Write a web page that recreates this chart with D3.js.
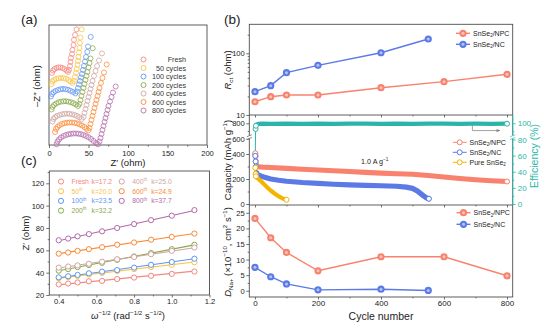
<!DOCTYPE html>
<meta charset="utf-8">
<script src="https://d3js.org/d3.v7.min.js"></script>
<style>
  body { margin: 0; background: #fff; }
</style>
<div id="chart"></div>
<script>

// ---------- (a) Nyquist plots, [Z', -Z''] in ohm ----------
var nyqNames = ["Fresh", "50 cycles", "100 cycles", "200 cycles", "400 cycles", "600 cycles", "800 cycles"];
var nyqFresh = [[3.8,91.3],[5.1,94.4],[7.0,96.3],[9.5,97.6],[12.0,98.2],[14.6,98.2],[17.1,97.6],[19.6,96.3],[22.2,94.4],[24.1,92.5],
  [25.3,95.1],[26.6,100.1],[27.2,105.2],[27.8,110.3],[29.1,115.3],[29.7,120.4],[31.0,126.7],[31.6,133.1],[32.9,139.4],[34.8,146.4]];
var nyq50 = [[3.2,77.3],[4.4,80.5],[6.3,82.4],[8.9,83.7],[12.0,84.5],[15.2,84.9],[18.4,84.7],[21.5,83.9],[24.7,82.4],[27.2,80.5],[29.7,78.6],
  [31.6,81.1],[32.9,86.2],[34.2,91.3],[35.1,96.3],[36.1,101.4],[36.7,106.5],[37.3,111.5],[38.0,117.2],[38.6,122.9],[39.2,129.3],[39.9,136.2],[41.4,146.4]];
var nyq100 = [[2.5,61.5],[3.8,64.6],[5.7,66.8],[8.2,68.4],[11.4,69.7],[14.6,70.6],[17.7,71.0],[20.9,70.7],[24.1,70.0],[27.2,68.7],[30.4,67.2],[33.5,65.3],
  [35.4,67.8],[36.7,72.2],[38.0,76.7],[39.2,81.1],[40.5,85.6],[41.8,90.0],[43.0,95.1],[44.3,100.1],[45.6,105.8],[46.8,111.5],[48.5,117.9],[49.4,124.8],[52.8,136.9]];
var nyq200 = [[3.2,45.0],[4.4,48.2],[6.3,50.7],[8.9,52.6],[12.0,54.1],[15.2,54.9],[18.4,55.4],[21.5,55.4],[24.7,54.9],[27.8,54.1],[31.0,52.9],[34.2,51.3],[36.7,49.4],
  [38.6,52.0],[39.9,57.0],[41.1,62.1],[42.4,67.2],[43.7,72.2],[44.9,77.3],[46.2,82.4],[47.5,87.5],[48.7,92.5],[50.0,98.2],[51.3,103.9],[52.5,109.6],[55.3,122.6]];
var nyq400 = [[4.4,29.8],[5.7,33.0],[7.6,35.1],[10.1,36.8],[13.3,38.0],[16.5,38.9],[19.6,39.5],[22.8,39.8],[25.9,39.5],[29.1,38.9],[32.3,38.0],[35.4,36.8],[38.6,35.1],[41.4,33.0],
  [43.7,35.5],[44.9,40.6],[46.2,45.6],[47.5,50.7],[48.7,55.8],[50.0,60.8],[51.3,65.9],[52.5,71.0],[53.8,76.0],[55.1,81.1],[57.0,87.5],[58.9,93.8],[60.8,100.1],[63.3,107.1],[67.1,116.0]];
var nyq600 = [[7.6,16.5],[8.9,20.3],[10.8,22.8],[13.3,25.0],[16.5,26.6],[19.6,27.6],[22.8,28.3],[25.9,28.5],[29.1,28.5],[32.3,28.1],[35.4,27.4],[38.6,26.2],[41.8,24.7],[44.9,22.8],[47.5,20.5],[49.7,18.4],
  [51.3,21.5],[52.5,26.6],[53.8,31.7],[55.1,36.8],[56.3,41.8],[57.6,46.9],[58.9,52.0],[60.1,57.0],[61.4,62.1],[62.7,67.2],[63.9,72.2],[65.8,78.6],[67.7,84.9],[69.6,91.9],[73.0,102.0]];
var nyq800 = [[9.5,0.9],[10.8,4.4],[12.7,7.2],[15.2,9.5],[18.4,11.4],[21.5,12.7],[24.7,13.6],[27.8,14.2],[31.0,14.6],[34.2,14.6],[37.3,14.3],[40.5,13.7],[43.7,12.7],[46.8,11.4],[50.0,9.8],[53.2,7.6],[56.3,5.1],[59.5,2.5],[62.0,0.9],
  [63.9,4.4],[65.2,8.9],[66.5,13.9],[67.7,19.0],[69.0,24.1],[70.3,29.2],[71.5,34.2],[72.8,39.3],[74.1,44.4],[75.3,49.4],[77.2,55.1],[79.1,60.8],[81.0,66.5],[84.4,74.1]];
var nyqTicks = [0, 50, 100, 150, 200];

// ---------- (c) Z' versus omega^-1/2 ----------
var wInv = [0.40, 0.45, 0.50, 0.56, 0.63, 0.71, 0.80, 0.89, 1.00, 1.12];
var zNames = ["Fresh", "50", "100", "200", "400", "600", "800"];
var zK = [17.2, 20.0, 23.5, 32.2, 25.0, 24.9, 37.7];
var zFresh = [29.5, 30.3, 31.2, 32.3, 32.6, 34.3, 35.6, 37.2, 38.9, 41.0];
var z50 = [35.0, 36.0, 37.0, 38.3, 39.8, 41.5, 43.2, 45.0, 47.0, 49.3];
var z100 = [35.8, 36.8, 38.0, 39.4, 40.9, 42.3, 44.5, 47.0, 49.5, 52.5];
var z200 = [41.8, 43.2, 45.0, 46.8, 48.8, 51.5, 54.5, 57.5, 61.0, 65.0];
var z400 = [44.5, 45.5, 46.5, 48.0, 49.8, 52.0, 54.0, 56.5, 59.5, 62.5];
var z600 = [57.0, 58.0, 59.5, 61.0, 62.8, 65.0, 67.0, 69.5, 72.0, 75.0];
var z800 = [69.0, 70.5, 72.5, 74.5, 77.0, 80.0, 83.5, 87.0, 91.0, 96.0];
var wTicks = [0.4, 0.6, 0.8, 1.0, 1.2];
var zTicks = [20, 40, 60, 80, 100, 120];

// ---------- (b) cycling ----------
var cyclesNPC = [0, 50, 100, 200, 400, 600, 800];
var cyclesNC = [0, 50, 100, 200, 400, 550];
var rctNPC = [16.4, 19.8, 21.1, 21.1, 27.7, 34.7, 45.7];
var rctNC = [23.9, 29.9, 48.5, 63.8, 102, 170.6];
var dNaNPC = [23.2, 17.0, 12.3, 6.4, 10.9, 10.9, 4.8];
var dNaNC = [7.5, 4.5, 2.2, 0.3, 0.5, 0.1];
// [cycle, capacity in mAh/g]
var capNPC = [[1,410],[2,380],[3,340],[5,310],[10,298],[25,295],[50,292],[100,285],[150,278],[200,272],[250,266],[300,260],[350,253],
  [400,247],[450,242],[500,238],[550,228],[600,216],[650,204],[700,194],[750,186],[800,180]];
var capNC = [[1,385],[2,340],[3,300],[5,250],[10,232],[25,218],[50,200],[75,190],[100,182],[150,172],[200,165],[250,158],[300,153],
  [350,149],[400,146],[450,142],[480,135],[500,125],[515,105],[525,85],[535,65],[545,48],[552,42]];
var capPure = [[1,290],[2,240],[3,222],[5,212],[10,203],[20,180],[30,155],[40,130],[50,108],[60,88],[70,70],[80,55],[90,42],[100,34]];
// [cycle, coulombic efficiency %]
var effNPC = [[1,62],[2,93],[3,97],[5,98.6],[10,99.2],[25,99.5],[50,99.3],[100,99.6],[150,99.4],[200,99.6],[250,99.3],[300,99.5],[350,99.6],
  [400,99.4],[450,99.6],[500,99.3],[550,99.5],[600,99.6],[650,99.4],[700,99.5],[750,99.3],[800,99.5]];
var cycleTicks = [0, 200, 400, 600, 800];
var capTicks = [0, 200, 400, 600, 800];
var effTicks = [0, 20, 40, 60, 80, 100];
var dTicks = [0, 5, 10, 15, 20, 25];

// ---------- colours ----------
var agingColors = ["#f4877f", "#f9c445", "#5f95ef", "#8aa84a", "#cfa6a2", "#fb8a36", "#b36ba9"];
var cNPC = "#f9826f", cNC = "#5b7ae6", cPure = "#f5b400", cEff = "#2bb5a8";

var FONT = '"Liberation Sans", Arial, Helvetica, sans-serif';
var AX = "#4d4d4d";

var svg = d3.select("#chart").append("svg")
  .attr("width", 554).attr("height", 328)
  .style("font-family", FONT);
svg.append("rect").attr("width", 554).attr("height", 328).attr("fill", "#fff");

function frame(x0, y0, x1, y1) {
  svg.append("rect").attr("x", x0).attr("y", y0).attr("width", x1 - x0).attr("height", y1 - y0)
    .attr("fill", "none").attr("stroke", AX).attr("stroke-width", 0.9);
}

function axis(gen, tx, ty, color, fs) {
  var g = svg.append("g").attr("transform", "translate(" + tx + "," + ty + ")").call(gen);
  g.select(".domain").remove();
  g.selectAll("line").attr("stroke", color || AX).attr("stroke-width", 0.8);
  g.selectAll("text").attr("fill", color || "#222").style("font-family", FONT).style("font-size", (fs || 7.6) + "px");
  return g;
}

// text with sub/superscript pieces: [string, "n"|"sup"|"sub", italic]
function richText(x, y, parts, fs, opts) {
  opts = opts || {};
  var t = svg.append("text").attr("x", x).attr("y", y)
    .attr("text-anchor", opts.anchor || "middle")
    .style("font-size", fs + "px")
    .attr("fill", opts.color || "#222");
  if (opts.rotate) t.attr("transform", "rotate(" + opts.rotate + "," + x + "," + y + ")");
  var shift = 0;
  parts.forEach(function(p) {
    var kind = p[1] || "n";
    var off = kind === "sup" ? -0.4 * fs : kind === "sub" ? 0.25 * fs : 0;
    var s = t.append("tspan").text(p[0]).attr("dy", off - shift);
    shift = off;
    if (kind !== "n") s.style("font-size", (fs * 0.65) + "px");
    if (p[2]) s.style("font-style", "italic");
  });
  return t;
}

// panel tags
richText(21, 24, [["(a)"]], 13.5, {anchor: "start"});
richText(224, 24, [["(b)"]], 13.5, {anchor: "start"});
richText(21, 165, [["(c)"]], 13.5, {anchor: "start"});

// =============== (a) ===============
var xA = d3.scaleLinear().domain([0, 200]).range([49, 207]);
var yA = d3.scaleLinear().domain([0, 152]).range([145, 25]);
frame(49, 25, 207, 145);
axis(d3.axisBottom(xA).tickValues(nyqTicks).tickSize(3).tickPadding(2.5).tickFormat(d3.format("d")), 0, 145);
axis(d3.axisBottom(xA).tickValues([25, 75, 125, 175]).tickSize(1.6).tickFormat(""), 0, 145);

var nyqSeries = [nyqFresh, nyq50, nyq100, nyq200, nyq400, nyq600, nyq800];
nyqSeries.forEach(function(s, i) {
  svg.append("g").selectAll("circle").data(s).enter().append("circle")
    .attr("cx", function(d) { return xA(d[0]); })
    .attr("cy", function(d) { return yA(d[1]); })
    .attr("r", 2.5)
    .attr("fill", "none")
    .attr("stroke", agingColors[i])
    .attr("stroke-width", 0.9)
    .attr("stroke-opacity", 0.85);
});

var legA = svg.append("g");
nyqNames.forEach(function(n, i) {
  var y = 59.5 + i * 8.5;
  legA.append("circle").attr("cx", 143.5).attr("cy", y).attr("r", 2.5)
    .attr("fill", "none").attr("stroke", agingColors[i]).attr("stroke-width", 0.9);
  legA.append("text").attr("x", 186).attr("y", y + 2.5).attr("text-anchor", "end")
    .style("font-size", "7.2px").attr("fill", "#333").text(n);
});

richText(40, 86, [["\u2013Z\u2033 (ohm)"]], 9.5, {rotate: -90});
richText(128, 166, [["Z\u2032 (ohm)"]], 9.5);

// =============== (c) ===============
var xC = d3.scaleLinear().domain([0.35, 1.2]).range([49.3, 209.5]);
var yC = d3.scaleLinear().domain([20, 131]).range([295, 171]);
frame(49.3, 171, 209.5, 295);
axis(d3.axisBottom(xC).tickValues(wTicks).tickSize(2.5).tickPadding(1.5).tickFormat(d3.format(".1f")), 0, 295);
axis(d3.axisBottom(xC).tickValues([0.5, 0.7, 0.9, 1.1]).tickSize(1.4).tickFormat(""), 0, 295);
axis(d3.axisLeft(yC).tickValues(zTicks).tickSize(3).tickPadding(2).tickFormat(d3.format("d")), 49.3, 0);
axis(d3.axisLeft(yC).tickValues([30, 50, 70, 90, 110, 130]).tickSize(1.6).tickFormat(""), 49.3, 0);

var zSeries = [zFresh, z50, z100, z200, z400, z600, z800];
zSeries.forEach(function(s, i) {
  // straight line with the fitted slope k through the centroid of the points
  var mx = d3.mean(wInv), my = d3.mean(s), k = zK[i];
  var x0 = wInv[0], x1 = wInv[wInv.length - 1];
  svg.append("line")
    .attr("x1", xC(x0)).attr("y1", yC(my + k * (x0 - mx)))
    .attr("x2", xC(x1)).attr("y2", yC(my + k * (x1 - mx)))
    .attr("stroke", agingColors[i]).attr("stroke-width", 1.1);
  svg.append("g").selectAll("circle").data(s).enter().append("circle")
    .attr("cx", function(d, j) { return xC(wInv[j]); })
    .attr("cy", function(d) { return yC(d); })
    .attr("r", 2.6)
    .attr("fill", "#fff")
    .attr("stroke", agingColors[i])
    .attr("stroke-width", 1);
});

var legC = svg.append("g");
zNames.forEach(function(n, i) {
  var col = i < 4 ? 0 : 1, row = i < 4 ? i : i - 4;
  var cx = col ? 121.7 : 61, y = 181.5 + row * 9.7;
  legC.append("circle").attr("cx", cx).attr("cy", y).attr("r", 2.6)
    .attr("fill", "none").attr("stroke", agingColors[i]).attr("stroke-width", 1);
  var parts = n === "Fresh" ? [["Fresh"]] : [[n], ["th", "sup"]];
  richText(cx + 10.5, y + 2.4, parts, 6.8, {anchor: "start", color: agingColors[i]});
  richText(cx + (col ? 29.5 : 30.5), y + 2.4, [["k=" + d3.format(".1f")(zK[i])]], 6.8, {anchor: "start", color: agingColors[i]});
});

richText(29, 233, [["Z\u2032 (ohm)"]], 9.5, {rotate: -90});
richText(128, 319, [["\u03c9", "n", true], ["\u22121/2", "sup"], [" (rad", "n"], ["\u22121/2", "sup"], [" s", "n"], ["\u22121/2", "sup"], [")", "n"]], 9.5);

// =============== (b) ===============
var bL = 249.3, bR = 512.7;
var xB = d3.scaleLinear().domain([-18, 818]).range([bL, bR]);
var yR = d3.scaleLog().domain([10, 295]).range([115, 24.3]);
var yCap = d3.scaleLinear().domain([0, 400, 800]).range([204, 154, 123.3]);
var yEff = d3.scaleLinear().domain([0, 100]).range([204, 123.3]);
var yD = d3.scaleLinear().domain([-2, 27.5]).range([297, 205]);

frame(bL, 24.3, bR, 297);
[115, 205].forEach(function(y) {
  svg.append("line").attr("x1", bL).attr("x2", bR).attr("y1", y).attr("y2", y)
    .attr("stroke", AX).attr("stroke-width", 0.9);
});

// shared cycle axis ticks on every layer
[115, 205, 297].forEach(function(y, i) {
  axis(d3.axisBottom(xB).tickValues(cycleTicks).tickSize(2.5).tickPadding(1)
    .tickFormat(i === 2 ? d3.format("d") : ""), 0, y, null, 8);
  axis(d3.axisBottom(xB).tickValues([100, 300, 500, 700]).tickSize(1.4).tickFormat(""), 0, y);
});

// left axes
axis(d3.axisLeft(yR).tickValues([10, 100]).tickSize(3).tickPadding(1.5).tickFormat(d3.format("d")), bL, 0);
axis(d3.axisLeft(yR).tickValues([20, 30, 40, 50, 60, 70, 80, 90, 200]).tickSize(1.6).tickFormat(""), bL, 0);
axis(d3.axisLeft(yCap).tickValues(capTicks).tickSize(3).tickPadding(1.5).tickFormat(d3.format("d")), bL, 0);
axis(d3.axisLeft(yCap).tickValues([100, 300, 700]).tickSize(1.6).tickFormat(""), bL, 0);
axis(d3.axisLeft(yD).tickValues(dTicks).tickSize(3).tickPadding(1.5).tickFormat(d3.format("d")), bL, 0);
axis(d3.axisLeft(yD).tickValues([2.5, 7.5, 12.5, 17.5, 22.5]).tickSize(1.6).tickFormat(""), bL, 0);

// right efficiency axis
svg.append("line").attr("x1", bR).attr("x2", bR).attr("y1", 115).attr("y2", 205)
  .attr("stroke", cEff).attr("stroke-width", 1);
axis(d3.axisRight(yEff).tickValues(effTicks).tickSize(3).tickPadding(2).tickFormat(d3.format("d")), bR, 0, cEff, 8);
axis(d3.axisRight(yEff).tickValues([10, 30, 50, 70, 90]).tickSize(1.6).tickFormat(""), bR, 0, cEff);

// axis break marks
[[bL, AX], [bR, cEff]].forEach(function(b) {
  var y = yCap(620);
  svg.append("rect").attr("x", b[0] - 2.5).attr("y", y - 1.6).attr("width", 5).attr("height", 3.2).attr("fill", "#fff");
  [-1.4, 1.4].forEach(function(o) {
    svg.append("line").attr("x1", b[0] - 2.5).attr("x2", b[0] + 2.5)
      .attr("y1", y + o + 1).attr("y2", y + o - 1)
      .attr("stroke", b[1]).attr("stroke-width", 0.7);
  });
});

// filled marker with a soft highlight
function ball(g, x, y, color) {
  g.append("circle").attr("cx", x).attr("cy", y).attr("r", 3.6).attr("fill", color);
  g.append("circle").attr("cx", x).attr("cy", y).attr("r", 1.5).attr("fill", "#fff").attr("opacity", 0.55);
}

function ballSeries(cycles, vals, yS, color) {
  var g = svg.append("g");
  var pts = cycles.map(function(c, i) { return [xB(c), yS(vals[i])]; });
  g.append("path").attr("d", d3.line()(pts)).attr("fill", "none")
    .attr("stroke", color).attr("stroke-width", 1.4);
  pts.forEach(function(p) { ball(g, p[0], p[1], color); });
}

ballSeries(cyclesNPC, rctNPC, yR, cNPC);
ballSeries(cyclesNC, rctNC, yR, cNC);
ballSeries(cyclesNPC, dNaNPC, yD, cNPC);
ballSeries(cyclesNC, dNaNC, yD, cNC);

// cycling data: thin connecting line, dense band, open markers at the ends
function cycleSeries(data, yS, color, band) {
  var g = svg.append("g");
  var line = d3.line().x(function(d) { return xB(d[0]); }).y(function(d) { return yS(d[1]); });
  g.append("path").attr("d", line(data)).attr("fill", "none").attr("stroke", color).attr("stroke-width", 1);
  g.append("path").attr("d", line(data.filter(function(d) { return d[0] >= 5; })))
    .attr("fill", "none").attr("stroke", color).attr("stroke-width", band)
    .attr("stroke-linejoin", "round").attr("stroke-linecap", "round");
  var ends = data.filter(function(d, i) { return d[0] < 5 || i === data.length - 1; });
  g.selectAll("circle").data(ends).enter().append("circle")
    .attr("cx", function(d) { return xB(d[0]); })
    .attr("cy", function(d) { return yS(d[1]); })
    .attr("r", 2.5).attr("fill", "#fff").attr("stroke", color).attr("stroke-width", 1);
}

cycleSeries(effNPC, yEff, cEff, 4.2);
cycleSeries(capNPC, yCap, cNPC, 5.2);
cycleSeries(capNC, yCap, cNC, 5.2);
cycleSeries(capPure, yCap, cPure, 4.2);

// arrow pointing the efficiency curve to the right axis
svg.append("defs").append("marker").attr("id", "arr").attr("viewBox", "0 0 10 10")
  .attr("refX", 9).attr("refY", 5).attr("markerWidth", 5).attr("markerHeight", 5).attr("orient", "auto")
  .append("path").attr("d", "M0,1L10,5L0,9Z").attr("fill", "#8a8a8a");
svg.append("path")
  .attr("d", "M" + xB(690) + "," + yEff(98.5) + "V" + yEff(91) + "H" + xB(778))
  .attr("fill", "none").attr("stroke", "#8a8a8a").attr("stroke-width", 0.8)
  .attr("marker-end", "url(#arr)");

richText(xB(380), yCap(318), [["1.0 A g"], ["\u22121", "sup"]], 7.2);

// legends
function sn(tail) { return [["SnSe"], ["2", "sub"], [tail]]; }

function ballLegend(y, color, parts, x0) {
  var g = svg.append("g");
  g.append("line").attr("x1", x0).attr("x2", x0 + 14).attr("y1", y).attr("y2", y)
    .attr("stroke", color).attr("stroke-width", 1.4);
  ball(g, x0 + 7, y, color);
  richText(x0 + 17, y + 2.4, parts, 7, {anchor: "start"});
}
ballLegend(33.3, cNPC, sn("/NPC"), 456);
ballLegend(44.3, cNC, sn("/NC"), 456);
ballLegend(212.7, cNPC, sn("/NPC"), 456.5);
ballLegend(224.3, cNC, sn("/NC"), 456.5);

[[cNPC, sn("/NPC")], [cNC, sn("/NC")], [cPure, [["Pure SnSe"], ["2", "sub"]]]].forEach(function(d, i) {
  var y = 142.3 + i * 10;
  svg.append("line").attr("x1", 452.7).attr("x2", 466.7).attr("y1", y).attr("y2", y)
    .attr("stroke", d[0]).attr("stroke-width", 1);
  svg.append("circle").attr("cx", 459.7).attr("cy", y).attr("r", 2.5)
    .attr("fill", "#fff").attr("stroke", d[0]).attr("stroke-width", 1);
  richText(469.5, y + 2.4, d[1], 7, {anchor: "start"});
});

// axis titles
richText(231, 70, [["R", "n", true], ["ct", "sub"], [" (ohm)"]], 9.5, {rotate: -90});
richText(231, 160, [["Capacity (mAh g"], ["\u22121", "sup"], [")"]], 9.5, {rotate: -90});
richText(231, 252, [["D", "n", true], ["Na+", "sub"], [" (\u00d710"], ["\u221210", "sup"], [", cm"], ["2", "sup"], [" s"], ["\u22121", "sup"], [")"]], 9.5, {rotate: -90});
richText(538, 156, [["Efficiency (%)"]], 10.5, {rotate: -90, color: cEff});
richText(381, 320, [["Cycle number"]], 10.5);

</script>
